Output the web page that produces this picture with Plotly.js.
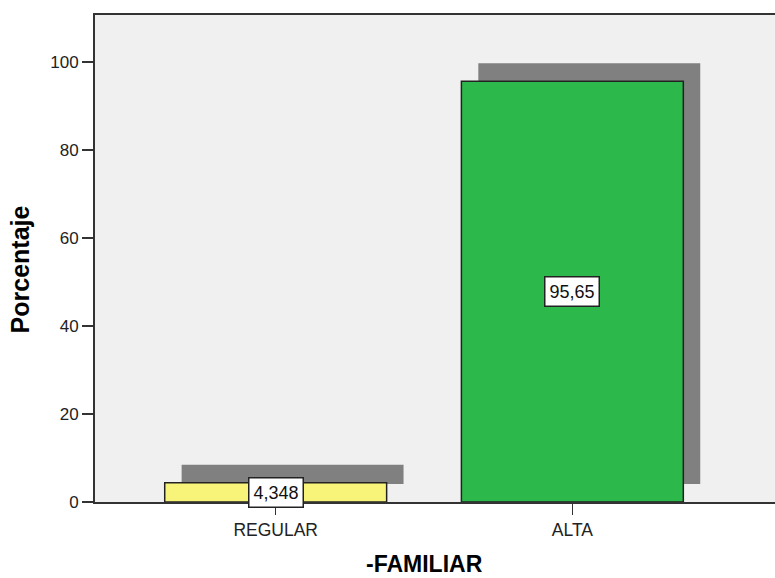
<!DOCTYPE html>
<html>
<head>
<meta charset="utf-8">
<script src="https://cdn.plot.ly/plotly-3.0.1.min.js"></script>
<style>html,body{margin:0;padding:0;background:#fff;}#chart{width:775px;height:578px;}</style>
</head>
<body>
<div id="chart"></div>
<script>
// Data
var categories = ["REGULAR", "ALTA"];
var percentages = [4.348, 95.65];
var valueLabels = ["4,348", "95,65"];
var barColors = ["#f8f47a", "#2db84b"];
var yTickVals = [0, 20, 40, 60, 80, 100];

// Style constants (drop-shadow offset, bar width)
var barWidth = 0.748;
var shadowDx = 0.057;   // category units
var shadowDy = 4.1;     // percentage units

var shadow = {
  type: "bar",
  x: categories,
  y: percentages,
  base: percentages.map(function(){ return shadowDy; }),
  width: barWidth,
  offset: -barWidth / 2 + shadowDx,
  marker: { color: "#808080", line: { width: 0 } },
  hoverinfo: "skip",
  showlegend: false
};

var bars = {
  type: "bar",
  x: categories,
  y: percentages,
  width: barWidth,
  offset: -barWidth / 2,
  marker: { color: barColors, line: { color: "#222", width: 1.5 } },
  showlegend: false
};

var annotations = categories.map(function(c, i) {
  return {
    x: c, y: percentages[i] / 2, xref: "x", yref: "y",
    text: valueLabels[i], showarrow: false,
    font: { family: "Liberation Sans, Arial, sans-serif", size: 18, color: "#111" },
    bgcolor: "#ffffff", bordercolor: "#222", borderwidth: 1.5, borderpad: 4
  };
});

annotations.push({
  xref: "paper", yref: "paper", x: -0.110, y: 0.478,
  xanchor: "center", yanchor: "middle",
  text: "<b>Porcentaje</b>", textangle: -90, showarrow: false,
  font: { family: "Liberation Sans, Arial, sans-serif", size: 25, color: "#000" }
});
annotations.push({
  xref: "paper", yref: "paper", x: 0.484, y: -0.128,
  xanchor: "center", yanchor: "middle",
  text: "<b>-FAMILIAR</b>", showarrow: false,
  font: { family: "Liberation Sans, Arial, sans-serif", size: 23, color: "#000" }
});

var layout = {
  width: 775, height: 578,
  margin: { l: 95, r: 0, t: 15, b: 76, pad: 0 },
  paper_bgcolor: "#ffffff",
  plot_bgcolor: "#f0f0f0",
  barmode: "overlay",
  font: { family: "Liberation Sans, Arial, sans-serif", size: 17, color: "#222" },
  xaxis: {
    type: "category",
    range: [-0.609, 1.683],
    showgrid: false, zeroline: false,
    showline: true, linecolor: "#333", linewidth: 2, mirror: true,
    ticks: "outside", ticklen: 11, tickwidth: 1.5, tickcolor: "#333",
    tickfont: { size: 17.5, color: "#222" }
  },
  yaxis: {
    range: [0, 110.7],
    tickvals: yTickVals,
    showgrid: false, zeroline: false,
    showline: true, linecolor: "#333", linewidth: 2,
    ticks: "outside", ticklen: 11, tickwidth: 1.5, tickcolor: "#333",
    tickfont: { size: 17, color: "#222" }
  },
  annotations: annotations
};

Plotly.newPlot("chart", [shadow, bars], layout, { displayModeBar: false, staticPlot: true });
</script>
</body>
</html>
